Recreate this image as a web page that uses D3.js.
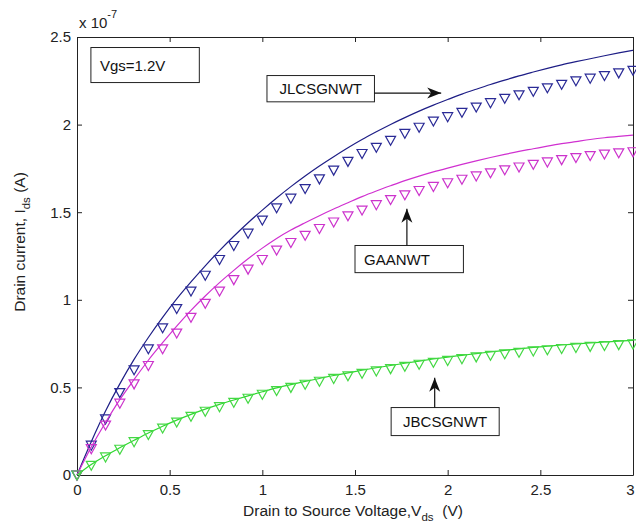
<!DOCTYPE html>
<html>
<head>
<meta charset="utf-8">
<script src="https://cdn.jsdelivr.net/npm/d3@7"></script>
<style>
  body { margin: 0; background: #fff; }
  svg { display: block; font-family: "Liberation Sans", Arial, sans-serif; }
  .tick text { font-size: 15px; fill: #222; }
  .axis path, .axis line { stroke: #222; }
  .note { font-size: 15px; fill: #111; }
</style>
</head>
<body>
<div id="chart"></div>
<script>
// Drain voltage samples (V)
const vds = [0, 0.077, 0.154, 0.231, 0.308, 0.385, 0.462, 0.538, 0.615, 0.692,
  0.769, 0.846, 0.923, 1.0, 1.077, 1.154, 1.231, 1.308, 1.385, 1.462,
  1.538, 1.615, 1.692, 1.769, 1.846, 1.923, 2.0, 2.077, 2.154, 2.231,
  2.308, 2.385, 2.462, 2.538, 2.615, 2.692, 2.769, 2.846, 2.923, 3.0];

// Drain current, units of 1e-7 A
const jlcsLine = [0, 0.19, 0.365, 0.52, 0.66, 0.785, 0.90, 1.005, 1.102, 1.194,
  1.281, 1.363, 1.44, 1.512, 1.581, 1.646, 1.707, 1.764, 1.817, 1.868,
  1.915, 1.959, 2.001, 2.04, 2.077, 2.111, 2.143, 2.174, 2.202, 2.229,
  2.254, 2.278, 2.30, 2.321, 2.341, 2.359, 2.376, 2.393, 2.409, 2.424];
const jlcsPts = [0, 0.17, 0.32, 0.47, 0.60, 0.72, 0.84, 0.95, 1.05, 1.14,
  1.23, 1.31, 1.38, 1.455, 1.525, 1.58, 1.635, 1.69, 1.74, 1.79,
  1.835, 1.87, 1.91, 1.95, 1.985, 2.02, 2.045, 2.07, 2.10, 2.125,
  2.15, 2.17, 2.19, 2.21, 2.23, 2.25, 2.265, 2.28, 2.295, 2.31];
const gaaLine = [0, 0.16, 0.30, 0.43, 0.545, 0.655, 0.755, 0.85, 0.94, 1.022,
  1.098, 1.168, 1.234, 1.295, 1.35, 1.398, 1.44, 1.48, 1.518, 1.554,
  1.589, 1.621, 1.651, 1.68, 1.706, 1.73, 1.752, 1.773, 1.793, 1.812,
  1.83, 1.847, 1.862, 1.877, 1.891, 1.903, 1.915, 1.925, 1.933, 1.94];
const gaaPts = [0, 0.15, 0.285, 0.41, 0.52, 0.625, 0.72, 0.81, 0.90, 0.98,
  1.05, 1.115, 1.175, 1.23, 1.284, 1.327, 1.368, 1.407, 1.444, 1.479,
  1.512, 1.543, 1.572, 1.599, 1.624, 1.647, 1.668, 1.688, 1.707, 1.725,
  1.742, 1.758, 1.773, 1.787, 1.80, 1.812, 1.823, 1.832, 1.839, 1.845];
const jbcsLine = [0, 0.06, 0.11, 0.155, 0.198, 0.24, 0.278, 0.313, 0.346, 0.376,
  0.403, 0.428, 0.452, 0.475, 0.497, 0.516, 0.534, 0.551, 0.568, 0.583,
  0.598, 0.612, 0.625, 0.638, 0.65, 0.662, 0.673, 0.683, 0.693, 0.702,
  0.711, 0.72, 0.728, 0.735, 0.742, 0.748, 0.754, 0.759, 0.764, 0.768];
const jbcsPts = [0, 0.055, 0.103, 0.147, 0.19, 0.231, 0.268, 0.302, 0.335, 0.364,
  0.39, 0.415, 0.438, 0.461, 0.482, 0.50, 0.518, 0.535, 0.551, 0.566,
  0.58, 0.594, 0.607, 0.62, 0.632, 0.643, 0.654, 0.664, 0.674, 0.683,
  0.692, 0.70, 0.708, 0.715, 0.722, 0.728, 0.734, 0.739, 0.744, 0.748];

const xTicks = [0, 0.5, 1, 1.5, 2, 2.5, 3];
const yTicks = [0, 0.5, 1, 1.5, 2, 2.5];

// Plot dimensions and margins
const W = 636, H = 526;
const margin = {top: 37, right: 3, bottom: 51, left: 77},
    width = W - margin.left - margin.right,
    height = H - margin.top - margin.bottom;

const root = d3.select("#chart").append("svg")
    .attr("width", W)
    .attr("height", H);
const svg = root.append("g")
    .attr("transform", "translate(" + margin.left + "," + margin.top + ")");

const x = d3.scaleLinear().domain([0, 3]).range([0, width]);
const y = d3.scaleLinear().domain([0, 2.5]).range([height, 0]);

// Axes (MATLAB style: inward ticks, box on)
const xAxis = svg.append("g")
    .attr("class", "axis")
    .attr("transform", "translate(0," + height + ")")
    .call(d3.axisBottom(x).tickValues(xTicks).tickSizeInner(-5).tickSizeOuter(0)
      .tickPadding(9).tickFormat(d => String(d)));
// last label sits on the window edge, nudge it in
xAxis.selectAll(".tick text").filter(d => d === 3).attr("dx", -3);
svg.append("g")
    .attr("class", "axis")
    .call(d3.axisLeft(y).tickValues(yTicks).tickSizeInner(-5).tickSizeOuter(0)
      .tickPadding(6).tickFormat(d => String(d)));
svg.append("g")
    .attr("class", "axis")
    .call(d3.axisTop(x).tickValues(xTicks).tickSizeInner(-5).tickSizeOuter(0).tickFormat(""));
svg.append("g")
    .attr("class", "axis")
    .attr("transform", "translate(" + width + ",0)")
    .call(d3.axisRight(y).tickValues(yTicks).tickSizeInner(-5).tickSizeOuter(0).tickFormat(""));
svg.selectAll(".axis .domain").attr("stroke", "#222");

// Exponent label
const expo = root.append("text")
    .attr("x", 79).attr("y", 28)
    .style("font-size", "15px").style("fill", "#222");
expo.append("tspan").text("x 10");
expo.append("tspan").attr("dy", -10).style("font-size", "11px").text("-7");

// Axis labels
const xl = root.append("text")
    .attr("x", 353).attr("y", 516)
    .attr("text-anchor", "middle")
    .style("font-size", "15.5px").style("fill", "#222");
xl.append("tspan").text("Drain to Source Voltage,V");
xl.append("tspan").attr("dy", 5).style("font-size", "11.5px").text("ds");
xl.append("tspan").attr("dy", -5).attr("xml:space", "preserve").text("  (V)");

const yl = root.append("text")
    .attr("transform", "translate(25,242) rotate(-90)")
    .attr("text-anchor", "middle")
    .style("font-size", "15.5px").style("fill", "#222");
yl.append("tspan").text("Drain current, I");
yl.append("tspan").attr("dy", 5).style("font-size", "11.5px").text("ds");
yl.append("tspan").attr("dy", -5).text(" (A)");

// Series
const series = [
  {name: "JLCSGNWT", line: jlcsLine, pts: jlcsPts, lineColor: "#1e1e86", ptColor: "#2a2a96"},
  {name: "GAANWT", line: gaaLine, pts: gaaPts, lineColor: "#d030d0", ptColor: "#cc33cc"},
  {name: "JBCSGNWT", line: jbcsLine, pts: jbcsPts, lineColor: "#2ed82e", ptColor: "#44d844"}
];

const line = d3.line()
    .x(d => x(d[0]))
    .y(d => y(d[1]))
    .curve(d3.curveMonotoneX);

series.forEach(s => {
  svg.append("path")
      .datum(vds.map((v, i) => [v, s.line[i]]))
      .attr("fill", "none")
      .attr("stroke", s.lineColor)
      .attr("stroke-width", 1.2)
      .attr("d", line);

  svg.selectAll(null)
      .data(vds.map((v, i) => [v, s.pts[i]]))
    .enter().append("path")
      .attr("transform", d => "translate(" + x(d[0]) + "," + y(d[1]) + ")")
      .attr("d", "M-5,-4L5,-4L0,5Z")
      .attr("fill", "none")
      .attr("stroke", s.ptColor)
      .attr("stroke-width", 1.2);
});

// Annotations (text boxes + arrows), placed in data coordinates
const notes = [
  {text: "Vgs=1.2V", box: [0.075, 2.44, 0.66, 2.24], anchor: "start"},
  {text: "JLCSGNWT", box: [1.025, 2.28, 1.605, 2.13], anchor: "middle",
   arrow: [1.605, 2.18, 1.965, 2.18]},
  {text: "GAANWT", box: [1.5, 1.31, 2.085, 1.155], anchor: "start",
   arrow: [1.78, 1.31, 1.78, 1.52]},
  {text: "JBCSGNWT", box: [1.695, 0.385, 2.278, 0.225], anchor: "middle",
   arrow: [1.93, 0.385, 1.93, 0.555]}
];

notes.forEach(n => {
  const x0 = x(n.box[0]), y0 = y(n.box[1]), x1 = x(n.box[2]), y1 = y(n.box[3]);
  svg.append("rect")
      .attr("x", x0).attr("y", y0)
      .attr("width", x1 - x0).attr("height", y1 - y0)
      .attr("fill", "#fff")
      .attr("stroke", "#222")
      .attr("stroke-width", 1);
  svg.append("text")
      .attr("class", "note")
      .attr("x", n.anchor === "middle" ? (x0 + x1) / 2 : x0 + 9)
      .attr("y", (y0 + y1) / 2 + 5.5)
      .attr("text-anchor", n.anchor)
      .text(n.text);
  if (n.arrow) {
    const ax0 = x(n.arrow[0]), ay0 = y(n.arrow[1]), ax1 = x(n.arrow[2]), ay1 = y(n.arrow[3]);
    const ang = Math.atan2(ay1 - ay0, ax1 - ax0) * 180 / Math.PI;
    svg.append("line")
        .attr("x1", ax0).attr("y1", ay0)
        .attr("x2", ax1).attr("y2", ay1)
        .attr("stroke", "#111")
        .attr("stroke-width", 1.2);
    svg.append("path")
        .attr("transform", "translate(" + ax1 + "," + ay1 + ") rotate(" + ang + ")")
        .attr("d", "M0,0L-14,-5.5L-10,0L-14,5.5Z")
        .attr("fill", "#111");
  }
});
</script>
</body>
</html>
